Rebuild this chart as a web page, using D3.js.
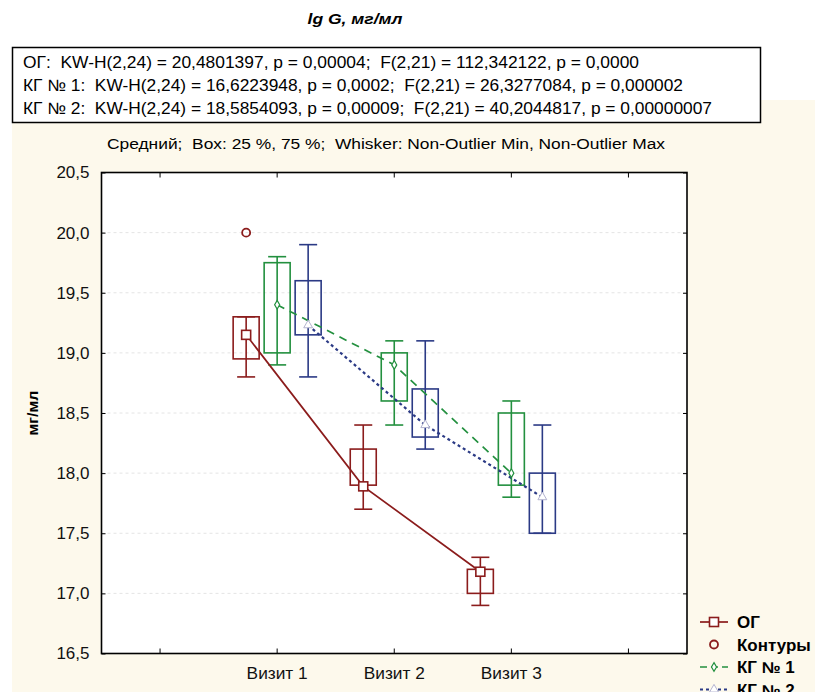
<!DOCTYPE html>
<html>
<head>
<meta charset="UTF-8">
<title>lg G</title>
<script src="https://cdn.jsdelivr.net/npm/d3@7"></script>
<style>
  body { margin: 0; background: #fff; }
  text { font-family: "Liberation Sans", Arial, sans-serif; white-space: pre; }
</style>
</head>
<body>
<script>
// --- data ---
var visits = ["Визит 1", "Визит 2", "Визит 3"];
var groups = ["ОГ", "КГ № 1", "КГ № 2"];

var ogMean = [19.15, 17.89, 17.18];
var ogQ1   = [18.95, 17.9, 17.0];
var ogQ3   = [19.3, 18.2, 17.2];
var ogMin  = [18.8, 17.7, 16.9];
var ogMax  = [19.3, 18.4, 17.3];

var kg1Mean = [19.4, 18.9, 18.0];
var kg1Q1   = [19.0, 18.6, 17.9];
var kg1Q3   = [19.75, 19.0, 18.5];
var kg1Min  = [18.9, 18.4, 17.8];
var kg1Max  = [19.8, 19.1, 18.6];

var kg2Mean = [19.23, 18.4, 17.8];
var kg2Q1   = [19.15, 18.3, 17.5];
var kg2Q3   = [19.6, 18.7, 18.0];
var kg2Min  = [18.8, 18.2, 17.5];
var kg2Max  = [19.9, 19.1, 18.4];

var outlierVisit = ["Визит 1"];
var outlierValue = [20.0];

var yTicks = [16.5, 17.0, 17.5, 18.0, 18.5, 19.0, 19.5, 20.0, 20.5];
var xSlots = ["", "Визит 1", "Визит 2", "Визит 3", " "];

var statLines = [
  "ОГ:  KW-H(2,24) = 20,4801397, p = 0,00004;  F(2,21) = 112,342122, p = 0,0000",
  "КГ № 1:  KW-H(2,24) = 16,6223948, p = 0,0002;  F(2,21) = 26,3277084, p = 0,000002",
  "КГ № 2:  KW-H(2,24) = 18,5854093, p = 0,00009;  F(2,21) = 40,2044817, p = 0,00000007"
];
var statWidths = [616, 660, 689];

// --- layout ---
var W = 815, H = 692;
var pL = 101.5, pR = 687, pT = 172.5, pB = 653.5;
var colors = ["#8b1c1c", "#23903f", "#2b3a85"];

var svg = d3.select("body").append("svg")
    .attr("width", W)
    .attr("height", H);

// cream background
svg.append("rect")
    .attr("x", 12).attr("y", 100)
    .attr("width", W - 12).attr("height", H - 100)
    .attr("fill", "#fdf9ec");

// title
svg.append("text")
    .attr("x", 355).attr("y", 24)
    .attr("text-anchor", "middle")
    .attr("font-size", 15)
    .attr("font-weight", "bold")
    .attr("font-style", "italic")
    .attr("textLength", 95)
    .attr("lengthAdjust", "spacingAndGlyphs")
    .text("lg G, мг/мл");

// stats box
svg.append("rect")
    .attr("x", 12.5).attr("y", 47.5)
    .attr("width", 748).attr("height", 75)
    .attr("fill", "#fff")
    .attr("stroke", "#000")
    .attr("stroke-width", 1.5);

svg.selectAll(".stat")
    .data(statLines)
    .enter().append("text")
    .attr("class", "stat")
    .attr("x", 23)
    .attr("y", function(d, i) { return 67.5 + i * 23; })
    .attr("font-size", 16.5)
    .attr("textLength", function(d, i) { return statWidths[i]; })
    .attr("lengthAdjust", "spacingAndGlyphs")
    .text(function(d) { return d; });

// subtitle
svg.append("text")
    .attr("x", 386).attr("y", 148.5)
    .attr("text-anchor", "middle")
    .attr("font-size", 15.5)
    .attr("textLength", 558)
    .attr("lengthAdjust", "spacingAndGlyphs")
    .text("Средний;  Box: 25 %, 75 %;  Whisker: Non-Outlier Min, Non-Outlier Max");

// scales
var x = d3.scaleBand().domain(xSlots).range([pL, pR]).padding(0);
var xc = function(v) { return x(v) + x.bandwidth() / 2; };
var off = d3.scalePoint().domain(groups).range([-31, 31]);
var y = d3.scaleLinear().domain([16.5, 20.5]).range([pB, pT]);

// plot area
svg.append("rect")
    .attr("x", pL).attr("y", pT)
    .attr("width", pR - pL).attr("height", pB - pT)
    .attr("fill", "#fff");

// grid
svg.append("g")
    .selectAll("line")
    .data(yTicks.slice(1, -1))
    .enter().append("line")
    .attr("x1", pL).attr("x2", pR)
    .attr("y1", function(d) { return y(d); })
    .attr("y2", function(d) { return y(d); })
    .attr("stroke", "#e4e4e4")
    .attr("stroke-dasharray", "3,3");

// axes
var fmt = function(d) { return d3.format(".1f")(d).replace(".", ","); };

var xAxis = svg.append("g")
    .attr("transform", "translate(0," + pB + ")")
    .call(d3.axisBottom(x).tickSize(-5).tickPadding(14));
xAxis.select(".domain").remove();
xAxis.selectAll("text").attr("class", "wide").attr("font-size", 16).attr("fill", "#111")
    .attr("font-family", "Liberation Sans, Arial, sans-serif");

var xTop = svg.append("g")
    .attr("transform", "translate(0," + pT + ")")
    .call(d3.axisTop(x).tickSize(-5).tickFormat(""));
xTop.select(".domain").remove();

var yAxis = svg.append("g")
    .attr("transform", "translate(" + pL + ",0)")
    .call(d3.axisLeft(y).tickValues(yTicks).tickFormat(fmt).tickSize(-4).tickPadding(12));
yAxis.select(".domain").remove();
yAxis.selectAll("text").attr("font-size", 17).attr("fill", "#111")
    .attr("font-family", "Liberation Sans, Arial, sans-serif");

var yRight = svg.append("g")
    .attr("transform", "translate(" + pR + ",0)")
    .call(d3.axisRight(y).tickValues(yTicks).tickSize(-4).tickFormat(""));
yRight.select(".domain").remove();

svg.append("rect")
    .attr("x", pL).attr("y", pT)
    .attr("width", pR - pL).attr("height", pB - pT)
    .attr("fill", "none")
    .attr("stroke", "#000")
    .attr("stroke-width", 1.6);

// y title
svg.append("text")
    .attr("transform", "translate(38," + ((pT + pB) / 2) + ") rotate(-90)")
    .attr("text-anchor", "middle")
    .attr("font-size", 15)
    .attr("font-weight", "bold")
    .attr("textLength", 45)
    .attr("lengthAdjust", "spacingAndGlyphs")
    .text("мг/мл");

// series
var series = [
  { name: groups[0], mean: ogMean, q1: ogQ1, q3: ogQ3, lo: ogMin, hi: ogMax, color: colors[0], dash: null },
  { name: groups[1], mean: kg1Mean, q1: kg1Q1, q3: kg1Q3, lo: kg1Min, hi: kg1Max, color: colors[1], dash: "8,6" },
  { name: groups[2], mean: kg2Mean, q1: kg2Q1, q3: kg2Q3, lo: kg2Min, hi: kg2Max, color: colors[2], dash: "3,3" }
];

var boxW = 26, capW = 18;

// boxes and whiskers
series.forEach(function(s) {
  var g = svg.append("g");
  visits.forEach(function(v, i) {
    var cx = xc(v) + off(s.name);
    g.append("line")
        .attr("x1", cx).attr("x2", cx)
        .attr("y1", y(s.hi[i])).attr("y2", y(s.lo[i]))
        .attr("stroke", s.color).attr("stroke-width", 1.6);
    [s.hi[i], s.lo[i]].forEach(function(val) {
      g.append("line")
          .attr("x1", cx - capW / 2).attr("x2", cx + capW / 2)
          .attr("y1", y(val)).attr("y2", y(val))
          .attr("stroke", s.color).attr("stroke-width", 1.6);
    });
    g.append("rect")
        .attr("x", cx - boxW / 2)
        .attr("y", y(s.q3[i]))
        .attr("width", boxW)
        .attr("height", y(s.q1[i]) - y(s.q3[i]))
        .attr("fill", "none")
        .attr("stroke", s.color)
        .attr("stroke-width", 1.6);
  });
});

// mean lines
var line = d3.line()
    .x(function(d) { return d[0]; })
    .y(function(d) { return d[1]; });

series.forEach(function(s) {
  var pts = visits.map(function(v, i) { return [xc(v) + off(s.name), y(s.mean[i])]; });
  svg.append("path")
      .attr("d", line(pts))
      .attr("fill", "none")
      .attr("stroke", s.color)
      .attr("stroke-width", s.dash === "3,3" ? 2.2 : 1.7)
      .attr("stroke-dasharray", s.dash);
});

// markers
function marker(g, k, cx, cy) {
  if (k === 0) {
    g.append("rect")
        .attr("x", cx - 4.5).attr("y", cy - 4.5)
        .attr("width", 9).attr("height", 9)
        .attr("fill", "#fff").attr("stroke", colors[0]).attr("stroke-width", 1.6);
  } else if (k === 1) {
    g.append("path")
        .attr("d", d3.symbol(d3.symbolDiamond, 22)())
        .attr("transform", "translate(" + cx + "," + cy + ")")
        .attr("fill", "#fff").attr("stroke", colors[1]).attr("stroke-width", 1.2);
  } else if (k === 2) {
    g.append("path")
        .attr("d", d3.symbol(d3.symbolTriangle, 34)())
        .attr("transform", "translate(" + cx + "," + cy + ")")
        .attr("fill", "#fff").attr("stroke", "#b4b4d0").attr("stroke-width", 1);
  } else {
    g.append("circle")
        .attr("cx", cx).attr("cy", cy).attr("r", 4)
        .attr("fill", "none").attr("stroke", colors[0]).attr("stroke-width", 1.8);
  }
}

var mg = svg.append("g");
series.forEach(function(s, k) {
  visits.forEach(function(v, i) {
    marker(mg, k, xc(v) + off(s.name), y(s.mean[i]));
  });
});
outlierVisit.forEach(function(v, i) {
  marker(mg, 3, xc(v) + off(groups[0]), y(outlierValue[i]));
});

// legend
var legendNames = ["ОГ", "Контуры", "КГ № 1", "КГ № 2"];
var legendKind = [0, 3, 1, 2];
var lg = svg.append("g");
legendNames.forEach(function(name, i) {
  var ly = 622 + i * 22.5;
  var k = legendKind[i];
  if (k !== 3) {
    lg.append("line")
        .attr("x1", 700).attr("x2", 728)
        .attr("y1", ly).attr("y2", ly)
        .attr("stroke", colors[k])
        .attr("stroke-width", k === 2 ? 2 : 1.7)
        .attr("stroke-dasharray", series[k].dash === "8,6" ? "7,4" : series[k].dash);
  }
  marker(lg, k, 714, ly);
  lg.append("text")
      .attr("class", "wide")
      .attr("x", 737).attr("y", ly + 6)
      .attr("font-size", 16)
      .attr("font-weight", "bold")
      .text(name);
});

// widen plain texts a little to match the picture
svg.selectAll("text.wide").each(function() {
  var n = this.getComputedTextLength();
  var k = this.parentNode === lg.node() ? 1.06 : 1.08;
  d3.select(this).attr("textLength", n * k).attr("lengthAdjust", "spacingAndGlyphs");
});
</script>
</body>
</html>
